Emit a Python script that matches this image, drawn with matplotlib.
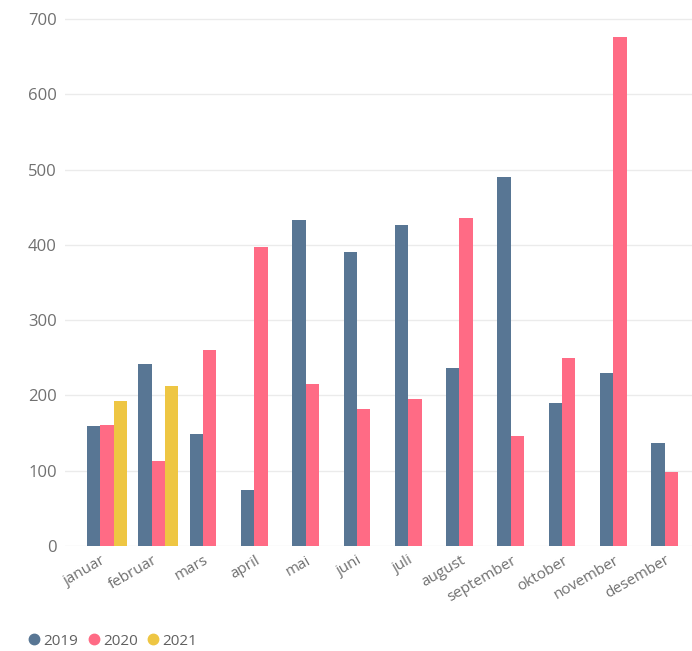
import matplotlib.pyplot as plt
import numpy as np
from matplotlib.lines import Line2D
from matplotlib.transforms import ScaledTranslation

plt.rcParams["font.family"] = ["Open Sans", "DejaVu Sans"]

months = ["januar", "februar", "mars", "april", "mai", "juni", "juli",
          "august", "september", "oktober", "november", "desember"]
years = ["2019", "2020", "2021"]
values_2019 = [159, 242, 149, 74, 433, 390, 427, 236, 490, 190, 230, 137]
values_2020 = [161, 113, 260, 397, 215, 182, 195, 435, 146, 250, 676, 98]
values_2021 = [193, 213, np.nan, np.nan, np.nan, np.nan, np.nan, np.nan,
               np.nan, np.nan, np.nan, np.nan]
colors = ["#587694", "#FF6B85", "#EEC643"]

fig = plt.figure(figsize=(6.92, 6.51), dpi=100)
# plot area: x from 65 px to the right edge, y from 546 px (zero) up to 15 px
ax = fig.add_axes([65 / 692, 105 / 651, 627 / 692, (546 - 15.2) / 651])

x = np.arange(len(months))
width = 0.26
for idx, (series, color) in enumerate(zip([values_2019, values_2020, values_2021], colors)):
    ax.bar(x + (idx - 1) * width, series, width, color=color, zorder=2)

ax.set_xlim(-0.82, -0.82 + 627 / 51.3)
ax.set_ylim(0, 705)
ax.set_yticks(range(0, 701, 100))
ax.grid(axis="y", color="#EBEBEB", linewidth=1, zorder=0)
for spine in ax.spines.values():
    spine.set_visible(False)
ax.tick_params(axis="both", length=0, colors="#707070")
ax.tick_params(axis="y", pad=6, labelsize=12)
ax.set_xticks(x, months, rotation=30, ha="right", rotation_mode="anchor")
ax.tick_params(axis="x", pad=5, labelsize=11)
shift = ScaledTranslation(-6 / 100, 0, fig.dpi_scale_trans)
for label in ax.get_xticklabels():
    label.set_transform(label.get_transform() + shift)

handles = [Line2D([], [], marker="o", linestyle="", color=c, markersize=7.5) for c in colors]
fig.legend(handles, years, loc="lower left", bbox_to_anchor=(0.012, -0.013),
           frameon=False, ncol=3, handletextpad=-0.4, columnspacing=0.0,
           fontsize=11, labelcolor="#606060", borderpad=0.2)

fig.savefig("out.png", dpi=100)
